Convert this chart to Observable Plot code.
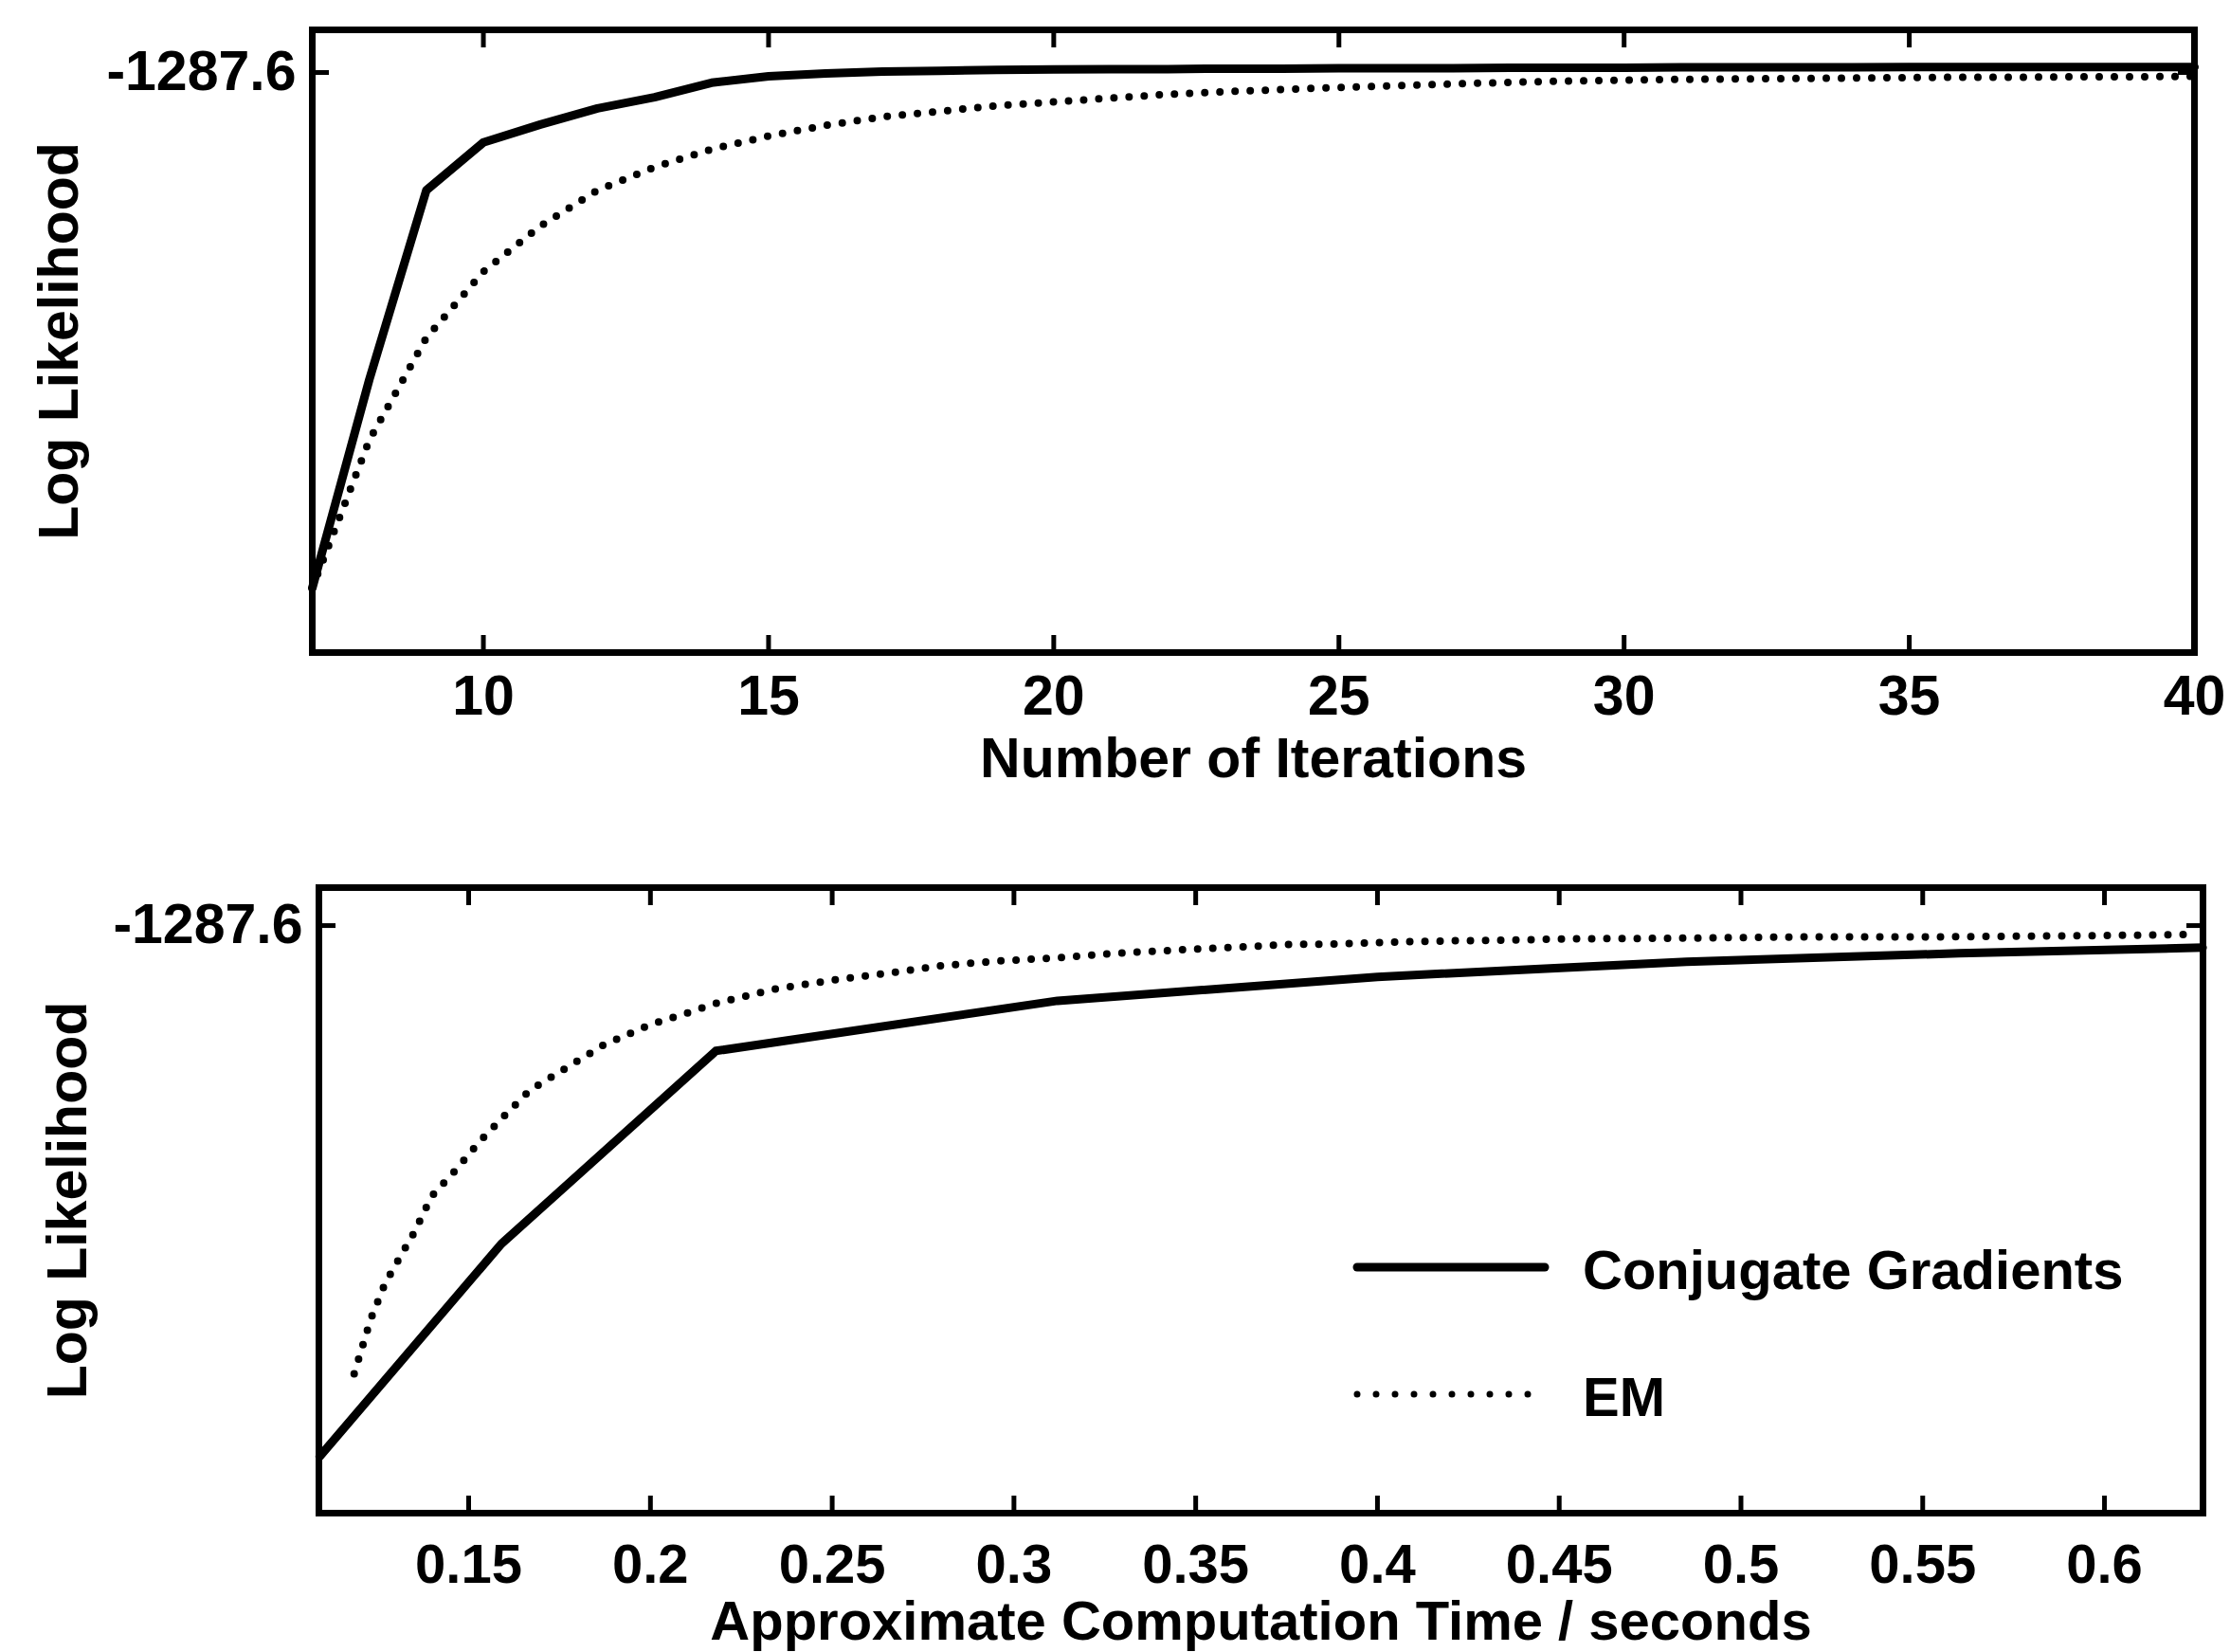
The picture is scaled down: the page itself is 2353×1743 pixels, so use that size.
<!DOCTYPE html>
<html>
<head>
<meta charset="utf-8">
<script src="https://cdn.jsdelivr.net/npm/d3@7"></script>
<script src="https://cdn.jsdelivr.net/npm/@observablehq/plot@0.6"></script>
<style>
  html, body { margin: 0; padding: 0; background: #fff; }
  #wrap { position: relative; width: 2353px; height: 1743px; overflow: hidden; background: #fff; }
  #top, #bottom, #legend { position: absolute; left: 0; }
  #top { top: 0; }
  #bottom { top: 860px; }
  #legend { top: 0; }
</style>
</head>
<body>
<div id="wrap"><div id="top"></div><div id="bottom"></div><div id="legend"></div></div>
<script>
// ---------- data: top panel (log likelihood vs. iteration) ----------
const iterations = [7, 8, 9, 10, 11, 12, 13, 14, 15, 16, 17, 18, 19, 20, 21, 22, 23,
  24, 25, 26, 27, 28, 29, 30, 31, 32, 33, 34, 35, 36, 37, 38, 39, 40];
const cgByIteration = [-1288.809, -1288.320, -1287.876, -1287.764, -1287.722, -1287.684,
  -1287.658, -1287.624, -1287.609, -1287.602, -1287.598, -1287.596, -1287.594, -1287.593,
  -1287.592, -1287.592, -1287.591, -1287.591, -1287.590, -1287.590, -1287.590, -1287.589,
  -1287.589, -1287.589, -1287.588, -1287.588, -1287.588, -1287.588, -1287.587, -1287.587,
  -1287.587, -1287.587, -1287.587, -1287.587];
const emByIteration = [-1288.809, -1288.462, -1288.222, -1288.067, -1287.960, -1287.876,
  -1287.822, -1287.780, -1287.749, -1287.724, -1287.704, -1287.691, -1287.678, -1287.669,
  -1287.660, -1287.651, -1287.645, -1287.640, -1287.635, -1287.631, -1287.627, -1287.623,
  -1287.620, -1287.618, -1287.616, -1287.615, -1287.614, -1287.613, -1287.612, -1287.611,
  -1287.611, -1287.610, -1287.610, -1287.609];

// ---------- data: bottom panel (log likelihood vs. time) ----------
const cgTime = [0.109, 0.159, 0.218, 0.312, 0.400, 0.485, 0.560, 0.627];
const cgByTime = [-1288.998, -1288.438, -1287.930, -1287.798, -1287.735, -1287.695, -1287.673, -1287.658];
const emTime = [0.1185, 0.1231, 0.1271, 0.1320, 0.1349, 0.1398, 0.1463, 0.1529, 0.1599,
  0.1669, 0.1763, 0.1870, 0.2001, 0.2092, 0.2186, 0.2339, 0.2491, 0.2655, 0.2806, 0.2963,
  0.3119, 0.3275, 0.3435, 0.3591, 0.3747, 0.3901, 0.4058, 0.4217, 0.4373, 0.4535, 0.4853,
  0.5160, 0.5479, 0.5786, 0.6112, 0.6240];
const emByTime = [-1288.780, -1288.635, -1288.540, -1288.458, -1288.410, -1288.313,
  -1288.245, -1288.170, -1288.100, -1288.033, -1287.978, -1287.915, -1287.860, -1287.833,
  -1287.803, -1287.768, -1287.745, -1287.725, -1287.705, -1287.693, -1287.685, -1287.673,
  -1287.665, -1287.658, -1287.650, -1287.648, -1287.643, -1287.640, -1287.638, -1287.635,
  -1287.633, -1287.630, -1287.630, -1287.628, -1287.625, -1287.623];

// ---------- ticks & labels ----------
const iterTicks = [10, 15, 20, 25, 30, 35, 40];
const timeTicks = [0.15, 0.2, 0.25, 0.3, 0.35, 0.4, 0.45, 0.5, 0.55, 0.6];
const yTicks = [-1287.6];
const yLabel = "Log Likelihood";
const iterLabel = "Number of Iterations";
const timeLabel = "Approximate Computation Time / seconds";
const seriesNames = ["Conjugate Gradients", "EM"];

const FONT = '"Liberation Sans", Arial, Helvetica, sans-serif';
const TICK = 18;

function panel(o) {
  const cg = o.cgX.map((x, i) => ({x, v: o.cgY[i]}));
  const em = o.emX.map((x, i) => ({x, v: o.emY[i]}));
  return Plot.plot({
    width: 2353,
    height: o.height,
    marginTop: o.mt, marginBottom: o.mb, marginLeft: o.ml, marginRight: o.mr,
    style: {fontFamily: FONT, fontSize: "59px", fontWeight: "bold", background: "white", color: "black", overflow: "visible"},
    x: {domain: o.xDomain},
    y: {domain: o.yDomain},
    marks: [
      Plot.frame({stroke: "black", strokeWidth: 7}),
      // inward tick marks on all four sides
      Plot.axisX(o.xTicks, {anchor: "bottom", tickSize: TICK, dy: -TICK, strokeWidth: 5, fill: "none", label: null}),
      Plot.axisX(o.xTicks, {anchor: "top", tickSize: TICK, dy: TICK, strokeWidth: 5, fill: "none", label: null}),
      Plot.axisY(yTicks, {anchor: "left", tickSize: TICK, dx: TICK, strokeWidth: 5, fill: "none", label: null}),
      Plot.axisY(yTicks, {anchor: "right", tickSize: TICK, dx: -TICK, strokeWidth: 5, fill: "none", label: null}),
      // tick labels and axis titles
      Plot.axisX(o.xTicks, {anchor: "bottom", tickSize: 0, tickPadding: o.tickPad, fontSize: o.tickFont,
        tickFormat: d => String(d), label: o.xLabel, labelAnchor: "center", labelArrow: "none", labelOffset: o.xLabelOffset}),
      Plot.axisY(yTicks, {anchor: "left", tickSize: 0, tickPadding: 17, fontSize: 59,
        tickFormat: d => d.toFixed(1), label: yLabel, labelAnchor: "center", labelArrow: "none", labelOffset: o.yLabelOffset}),
      Plot.line(cg, {x: "x", y: "v", stroke: "black", strokeWidth: 9, strokeLinejoin: "round", strokeLinecap: "round"}),
      Plot.line(em, {x: "x", y: "v", stroke: "black", strokeWidth: 8, strokeDasharray: "0 16", strokeLinecap: "round"})
    ]
  });
}

document.getElementById("top").append(panel({
  height: 840, mt: 31, mb: 152, ml: 329, mr: 38,
  xDomain: [7, 40], yDomain: [-1288.96, -1287.5],
  xTicks: iterTicks, tickPad: 24, tickFont: 59,
  xLabel: iterLabel, xLabelOffset: 131, yLabelOffset: 289,
  cgX: iterations, cgY: cgByIteration, emX: iterations, emY: emByIteration
}));

document.getElementById("bottom").append(panel({
  height: 883, mt: 76, mb: 147, ml: 336, mr: 29,
  xDomain: [0.1088, 0.6271], yDomain: [-1289.147, -1287.5],
  xTicks: timeTicks, tickPad: 32, tickFont: 58,
  xLabel: timeLabel, xLabelOffset: 133, yLabelOffset: 287,
  cgX: cgTime, cgY: cgByTime, emX: emTime, emY: emByTime
}));

// ---------- legend (inside lower panel) ----------
const NS = "http://www.w3.org/2000/svg";
const lg = document.createElementNS(NS, "svg");
lg.setAttribute("width", 2353);
lg.setAttribute("height", 1743);
lg.style.fontFamily = FONT;
lg.style.fontWeight = "bold";
lg.style.fontSize = "58px";
const items = [
  {name: seriesNames[0], y: 1337, dash: null, w: 9},
  {name: seriesNames[1], y: 1471, dash: "0 20", w: 7}
];
items.forEach(it => {
  const l = document.createElementNS(NS, "line");
  l.setAttribute("x1", 1432); l.setAttribute("x2", 1630);
  l.setAttribute("y1", it.y); l.setAttribute("y2", it.y);
  l.setAttribute("stroke", "black");
  l.setAttribute("stroke-width", it.w);
  l.setAttribute("stroke-linecap", "round");
  if (it.dash) l.setAttribute("stroke-dasharray", it.dash);
  lg.append(l);
  const t = document.createElementNS(NS, "text");
  t.setAttribute("x", 1670);
  t.setAttribute("y", it.y + 23);
  t.textContent = it.name;
  lg.append(t);
});
document.getElementById("legend").append(lg);
</script>
</body>
</html>
